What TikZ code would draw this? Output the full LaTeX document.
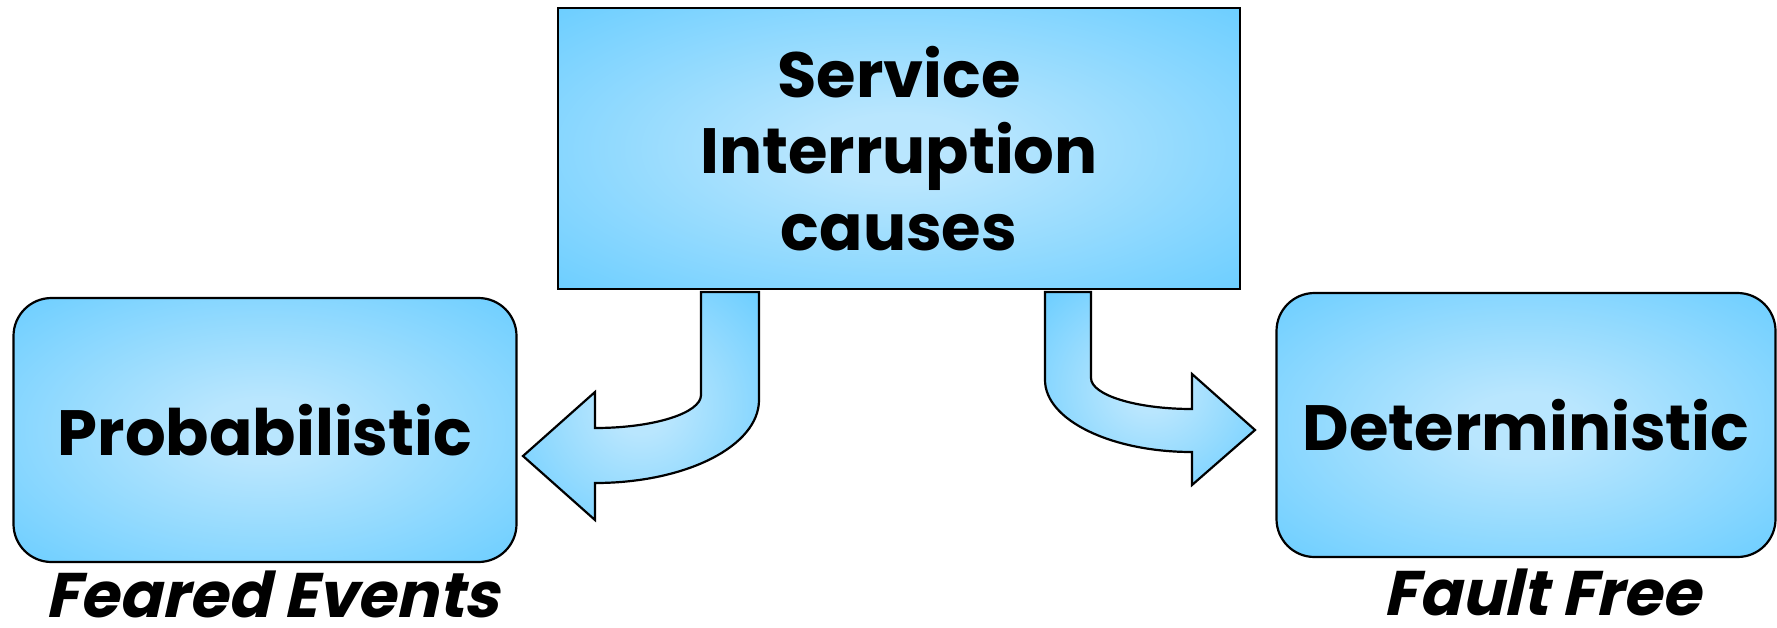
\documentclass[tikz,border=0pt]{standalone}
\usepackage{fontspec}
\setmainfont{Poppins}
\newfontfamily\slantbold{Poppins}[FakeSlant=0.22]
\definecolor{outc}{HTML}{66CCFF}
\definecolor{lightc}{HTML}{B9E6FE}
\pgfdeclareradialshading{glow}{\pgfpoint{0bp}{0bp}}{color(0bp)=(lightc); color(6bp)=(lightc); color(38bp)=(outc); color(100bp)=(outc)}
\tikzset{
  base/.style={draw=black, line width=2.2pt, shading=glow, inner sep=0pt, font=\bfseries\fontsize{64}{76.5}\selectfont},
  topbox/.style={base, rectangle, minimum width=682pt, minimum height=281pt, align=center},
  sidebox/.style={base, rectangle, rounded corners=38pt, minimum width=503pt, minimum height=264pt},
  caption/.style={anchor=base, inner sep=0pt, font=\slantbold\bfseries\fontsize{63}{70}\selectfont},
  blockarrow/.style={draw=black, line width=2.2pt, shading=glow, line join=miter}
}
\begin{document}
\begin{tikzpicture}[x=1pt, y=-1pt]
\useasboundingbox (0,0) rectangle (1777,627);
\node[topbox] (top) at (899,148.5) {Service\\Interruption\\causes};
\node[sidebox] (prob) at (265,430) {Probabilistic};
\node[sidebox, minimum width=499pt] (det) at (1526,425) {Deterministic};
\node[caption] (feared) at (272,617) {Feared Events};
\node[caption] (fault) at (1542,615) {Fault Free};
% left block arrow
\draw[blockarrow] (701,292) -- (701,395)
  .. controls (701,413) and (654,428) .. (595,428)
  -- (595,392) -- (523,456) -- (595,520) -- (595,483)
  .. controls (686,483) and (759,446) .. (759,400)
  -- (759,292) -- cycle;
% right block arrow
\draw[blockarrow] (1045,292) -- (1045,380)
  .. controls (1045,420) and (1111,452) .. (1192,452)
  -- (1192,485) -- (1255,430) -- (1192,374) -- (1192,409)
  .. controls (1136,409) and (1091,395) .. (1091,378)
  -- (1091,292) -- cycle;
\end{tikzpicture}
\end{document}
